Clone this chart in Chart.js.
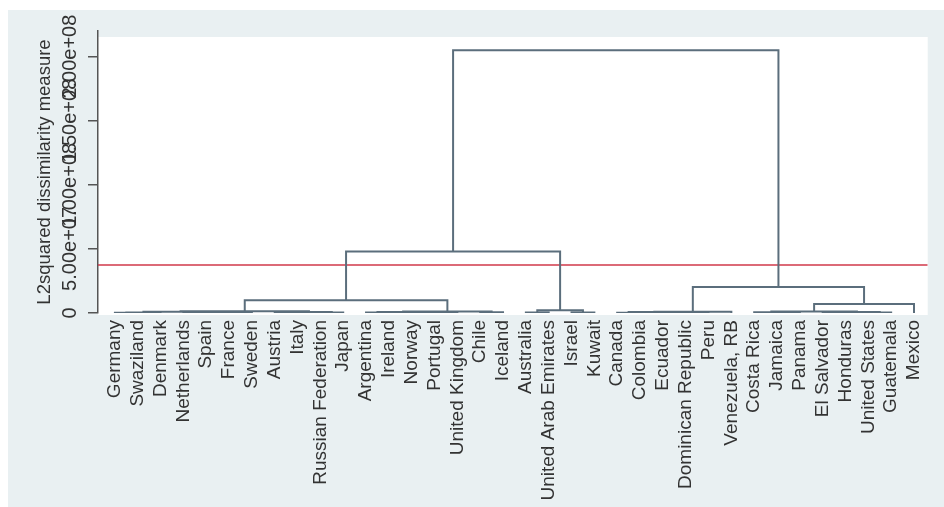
<!DOCTYPE html>
<html>
<head>
<meta charset="utf-8">
<script src="https://cdn.jsdelivr.net/npm/chart.js@4.4.1/dist/chart.umd.min.js"></script>
<style>
  html, body { margin: 0; padding: 0; background: #fff; }
  #frame { position: absolute; left: 8px; top: 10px; width: 936px; height: 497px; background: #e9f0f2; }
  #dendro { position: absolute; left: 0; top: 0; }
</style>
</head>
<body>
<div id="frame"></div>
<canvas id="dendro" width="944" height="507"></canvas>
<script>
(function () {
  'use strict';

  // Leaves, in dendrogram order (node ids 0..35).
  var countries = ['Germany', 'Swaziland', 'Denmark', 'Netherlands', 'Spain', 'France', 'Sweden',
    'Austria', 'Italy', 'Russian Federation', 'Japan', 'Argentina', 'Ireland', 'Norway', 'Portugal',
    'United Kingdom', 'Chile', 'Iceland', 'Australia', 'United Arab Emirates', 'Israel', 'Kuwait',
    'Canada', 'Colombia', 'Ecuador', 'Dominican Republic', 'Peru', 'Venezuela, RB', 'Costa Rica',
    'Jamaica', 'Panama', 'El Salvador', 'Honduras', 'United States', 'Guatemala', 'Mexico'];

  // Merge k joins mergeLeft[k] and mergeRight[k] at mergeHeight[k]; the new node gets id 36 + k.
  var mergeLeft   = [0, 36, 3, 5, 38, 37, 7, 9, 42, 41, 11, 14, 13, 46, 16, 49, 45, 18, 20, 53, 52,
                     22, 25, 24, 57, 60, 29, 28, 31, 33, 64, 63, 67, 61, 56];
  var mergeRight  = [1, 2, 4, 6, 39, 40, 8, 10, 43, 44, 12, 15, 47, 48, 17, 50, 51, 19, 21, 54, 55,
                     23, 26, 58, 59, 27, 30, 62, 32, 34, 65, 66, 35, 68, 69];
  var mergeHeight = [2e5, 4e5, 3e5, 2.5e5, 7e5, 9e5, 3e5, 4e5, 8e5, 1.4e6, 3e5, 2e5, 5e5, 8e5, 6e5, 1.2e6,
                     1.0e7, 3e5, 4e5, 2.2e6, 4.8e7, 2e5, 3e5, 5e5, 7e5, 9e5, 3e5, 6e5, 2e5, 4e5, 8e5,
                     1.1e6, 7e6, 2.03e7, 2.05e8];

  var yTicks = [0, 5e7, 1e8, 1.5e8, 2e8];
  var yTickLabels = ['0', '5.00e+07', '1.00e+08', '1.50e+08', '2.00e+08'];
  var cutHeight = 3.75e7;

  var xMin = -0.74, xMax = 35.6, yMax = 2.2e8;

  // Walk the merges and emit one bracket per merge, separated by gaps.
  function buildLinks() {
    var nodeX = countries.map(function (_, i) { return i; });
    var nodeH = countries.map(function () { return 0; });
    var pts = [];
    mergeLeft.forEach(function (a, k) {
      var b = mergeRight[k], h = mergeHeight[k];
      pts.push({ x: nodeX[a], y: nodeH[a] }, { x: nodeX[a], y: h },
               { x: nodeX[b], y: h }, { x: nodeX[b], y: nodeH[b] }, { x: nodeX[b], y: null });
      nodeX.push((nodeX[a] + nodeX[b]) / 2);
      nodeH.push(h);
    });
    return pts;
  }

  var FONT = '"Liberation Sans", Arial, sans-serif';
  var TEXT = '#333';
  var AXIS = '#555';

  var plotBackground = {
    id: 'plotBackground',
    beforeDraw: function (chart) {
      var a = chart.chartArea, ctx = chart.ctx;
      ctx.save();
      ctx.fillStyle = '#fff';
      ctx.fillRect(a.left, a.top + 6, a.right - a.left, a.bottom - a.top - 4);
      ctx.restore();
    }
  };

  // Stata draws y tick labels turned 90 degrees, centred on the tick.
  var yLabels = {
    id: 'yLabels',
    afterDraw: function (chart) {
      var y = chart.scales.y, ctx = chart.ctx;
      ctx.save();
      ctx.font = '20px ' + FONT;
      ctx.fillStyle = TEXT;
      ctx.textAlign = 'center';
      ctx.textBaseline = 'middle';
      yTicks.forEach(function (v, i) {
        ctx.save();
        ctx.translate(y.right - 28, y.getPixelForValue(v));
        ctx.rotate(-Math.PI / 2);
        ctx.fillText(yTickLabels[i], 0, 0);
        ctx.restore();
      });
      ctx.restore();
    }
  };

  new Chart(document.getElementById('dendro'), {
    type: 'line',
    data: {
      datasets: [{
        data: buildLinks(),
        borderColor: '#5b6e7c',
        borderWidth: 2,
        pointRadius: 0,
        spanGaps: false,
        tension: 0
      }, {
        data: [{ x: xMin, y: cutHeight }, { x: xMax, y: cutHeight }],
        borderColor: '#d0394a',
        borderWidth: 1.6,
        pointRadius: 0
      }]
    },
    options: {
      responsive: false,
      animation: false,
      layout: { padding: { top: 31, right: 12, left: 0, bottom: 0 } },
      plugins: { legend: { display: false }, tooltip: { enabled: false } },
      scales: {
        x: {
          type: 'linear',
          min: xMin,
          max: xMax,
          grid: { display: false, drawTicks: false },
          border: { display: false },
          afterBuildTicks: function (s) {
            s.ticks = countries.map(function (_, i) { return { value: i }; });
          },
          afterFit: function (s) { s.height = 194; },
          ticks: {
            autoSkip: false,
            minRotation: 90,
            maxRotation: 90,
            padding: 7,
            color: TEXT,
            font: { family: FONT, size: 19 },
            callback: function (v) { return countries[v]; }
          }
        },
        y: {
          type: 'linear',
          min: 0,
          max: yMax,
          afterBuildTicks: function (s) {
            s.ticks = yTicks.map(function (v) { return { value: v }; });
          },
          afterFit: function (s) { s.width = 98; },
          grid: { drawOnChartArea: false, tickLength: 10, color: AXIS, lineWidth: 1.5 },
          border: { color: AXIS, width: 1.5 },
          ticks: { display: false },
          title: {
            display: true,
            text: 'L2squared dissimilarity measure',
            color: TEXT,
            font: { family: FONT, size: 18.5 },
            padding: { top: 34, bottom: 0 }
          }
        }
      }
    },
    plugins: [plotBackground, yLabels]
  });
}());
</script>
</body>
</html>
